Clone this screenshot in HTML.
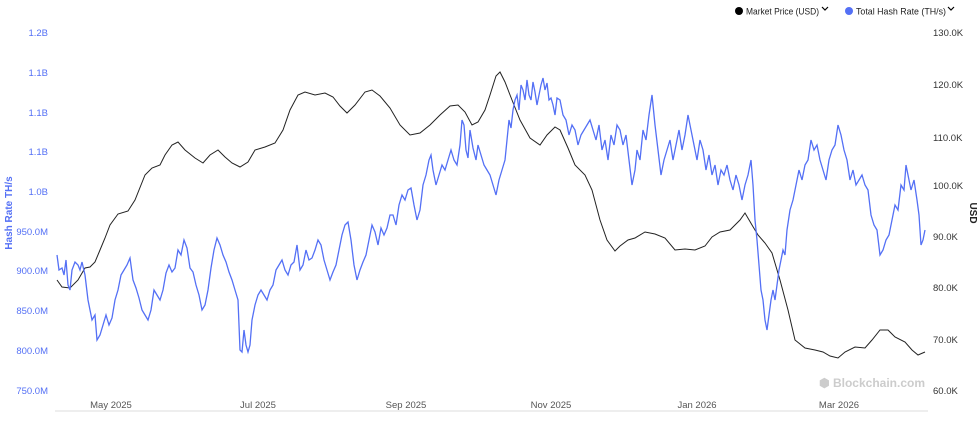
<!DOCTYPE html><html><head><style>body{margin:0;background:#fff;font-family:"Liberation Sans",sans-serif}</style></head><body>
<svg width="980" height="424" xmlns="http://www.w3.org/2000/svg" font-family="Liberation Sans, sans-serif">
<rect width="980" height="424" fill="#fff"/>
<g font-size="9" fill="#222">
<circle cx="739" cy="11" r="4" fill="#000"/><text x="746" y="14.5" textLength="73" lengthAdjust="spacingAndGlyphs">Market Price (USD)</text>
<path d="M822 7l3 3 3-3" stroke="#000" fill="none" stroke-width="1.2"/>
<circle cx="849" cy="11" r="4" fill="#5470f5"/><text x="856" y="14.5" textLength="90" lengthAdjust="spacingAndGlyphs">Total Hash Rate (TH/s)</text>
<path d="M948 7l3 3 3-3" stroke="#000" fill="none" stroke-width="1.2"/>
</g>
<g font-size="9.5" fill="#5470f5" text-anchor="end">
<text x="48" y="36">1.2B</text><text x="48" y="76">1.1B</text><text x="48" y="116">1.1B</text><text x="48" y="155">1.1B</text><text x="48" y="195">1.0B</text><text x="48" y="235">950.0M</text><text x="48" y="274">900.0M</text><text x="48" y="314">850.0M</text><text x="48" y="354">800.0M</text><text x="48" y="394">750.0M</text>
</g>
<text transform="translate(12,213) rotate(-90)" font-size="10" fill="#5470f5" text-anchor="middle" font-weight="bold">Hash Rate TH/s</text>
<g font-size="9.5" fill="#333">
<text x="933" y="36">130.0K</text><text x="933" y="88">120.0K</text><text x="933" y="141">110.0K</text><text x="933" y="189">100.0K</text><text x="933" y="240">90.0K</text><text x="933" y="291">80.0K</text><text x="933" y="343">70.0K</text><text x="933" y="394">60.0K</text>
</g>
<text transform="translate(970,213) rotate(90)" font-size="10" fill="#222" text-anchor="middle" font-weight="bold">USD</text>
<line x1="55" y1="411" x2="928" y2="411" stroke="#ddd"/>
<g font-size="9.5" fill="#555" text-anchor="middle">
<text x="111" y="408">May 2025</text><text x="258" y="408">Jul 2025</text><text x="406" y="408">Sep 2025</text><text x="551" y="408">Nov 2025</text><text x="697" y="408">Jan 2026</text><text x="839" y="408">Mar 2026</text>
</g>
<text x="925" y="387" font-size="12" fill="#ccc" text-anchor="end" font-weight="bold">⬢ Blockchain.com</text>
<polyline fill="none" stroke="#222" stroke-width="1" points="57,280 62,287 70,288 78,280 85,268 90,267 95,262 100,250 105,238 110,225 118,214 128,211 135,200 145,175 152,168 160,165 165,155 172,145 178,142 185,150 195,158 203,163 210,155 218,150 225,157 232,163 240,167 248,162 255,150 265,147 275,143 283,130 290,110 298,95 305,92 315,95 325,93 333,97 340,106 347,113 355,105 365,92 372,90 380,96 390,108 400,125 410,135 420,133 430,125 440,115 450,106 458,105 465,112 472,125 478,122 485,110 490,95 496,76 500,72 505,82 512,100 520,120 530,138 540,145 547,135 555,127 560,130 568,148 575,165 585,175 592,190 600,220 607,240 615,251 620,246 628,240 635,238 645,232 655,234 665,238 675,250 685,249 695,250 705,246 712,237 720,232 730,230 740,220 745,213 752,225 758,235 765,243 772,253 780,280 788,310 795,340 805,348 815,350 823,352 830,356 838,358 845,352 855,347 865,348 872,340 880,330 888,330 895,337 905,342 912,350 918,355 925,352"/>
<polyline fill="none" stroke="#5470f5" stroke-width="1.3" points="57,255 59,270 62,268 64,275 66,260 68,285 70,290 72,270 75,262 78,265 80,270 82,262 85,275 88,300 90,310 92,320 95,315 97,340 100,335 103,325 106,315 109,325 112,318 115,300 118,290 121,275 124,270 127,265 130,258 133,280 136,288 139,298 142,310 145,315 148,320 151,310 154,290 157,295 160,300 163,290 166,273 169,265 172,272 175,268 178,250 181,255 184,240 187,248 190,268 193,272 196,285 199,295 202,310 205,305 208,290 211,268 214,250 217,238 220,245 223,255 226,262 229,272 232,280 235,290 238,300 240,350 242,352 244,330 246,345 248,352 250,345 252,320 255,305 258,295 261,290 264,295 267,300 270,290 273,285 276,270 279,265 282,260 285,270 288,275 291,265 294,262 297,245 300,270 303,265 306,250 309,260 312,258 315,250 318,240 321,245 324,260 327,270 330,280 333,272 336,265 339,250 342,235 345,225 348,222 351,240 354,265 357,280 360,270 363,262 366,255 369,240 372,225 375,232 378,245 381,228 384,235 387,228 390,215 393,215 396,225 399,205 402,195 405,200 408,190 411,188 414,205 417,220 420,210 423,185 426,175 429,160 431,155 433,170 436,185 439,175 442,165 445,170 448,160 451,150 454,160 457,165 460,145 462,120 464,125 466,150 468,158 470,130 473,148 476,160 478,145 481,155 484,165 487,170 490,175 493,185 496,195 499,180 502,170 505,160 507,140 509,120 511,128 513,110 515,100 517,95 519,110 521,85 523,90 525,100 527,80 529,95 531,100 533,82 535,92 537,105 539,95 541,85 543,78 545,90 547,83 549,100 551,98 553,105 555,115 557,98 560,100 563,115 566,120 569,135 572,125 575,130 578,145 581,135 584,130 587,125 590,120 593,130 596,140 599,125 602,150 605,140 608,160 611,135 614,145 617,125 620,130 623,145 626,135 629,160 632,185 635,170 637,150 640,160 643,130 646,140 649,115 652,95 655,125 658,150 661,175 664,160 667,150 670,140 673,160 676,145 679,130 682,150 685,135 688,115 691,130 694,145 697,160 700,140 703,150 706,170 709,155 712,175 715,165 718,185 721,170 724,175 727,165 730,180 733,190 736,175 739,185 742,200 745,185 748,175 751,160 753,185 755,220 757,240 759,265 761,290 763,300 765,320 767,330 769,315 771,300 773,290 775,300 777,285 779,270 781,260 783,250 785,255 787,230 790,210 793,200 796,185 799,170 802,180 805,165 808,160 811,140 814,150 817,145 820,160 823,170 826,180 829,160 832,150 835,145 838,125 841,135 844,150 847,160 850,180 853,170 856,185 859,180 862,175 865,185 868,190 871,215 874,225 877,230 880,255 883,250 886,240 889,235 892,220 895,205 898,210 901,185 904,190 906,165 908,175 911,190 914,180 917,200 919,215 921,245 923,240 925,230"/>
</svg></body></html>
